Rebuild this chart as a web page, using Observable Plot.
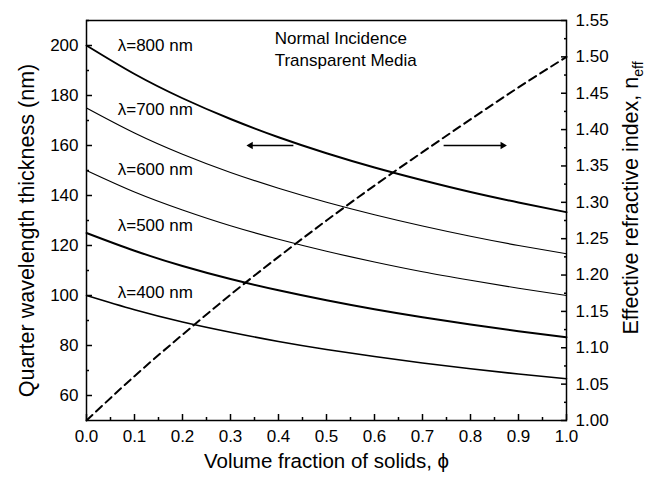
<!DOCTYPE html>
<html><head><meta charset="utf-8">
<script src="https://cdn.jsdelivr.net/npm/d3@7"></script>
<script src="https://cdn.jsdelivr.net/npm/@observablehq/plot@0.6"></script>
<style>
body{margin:0;background:#fff}
#chart{width:661px;height:478px}
</style>
</head><body><div id="chart"></div>
<script>
// ---- data ----
const phi = [0.0, 0.1, 0.2, 0.3, 0.4, 0.5, 0.6, 0.7, 0.8, 0.9, 1.0];
const wavelengths = [800, 700, 600, 500, 400];
const t800 = [200, 188.6, 178.9, 170.6, 163.3, 156.9, 151.2, 146.1, 141.4, 137.2, 133.3];
const t700 = [175, 165.0, 156.5, 149.2, 142.9, 137.3, 132.3, 127.8, 123.7, 120.0, 116.7];
const t600 = [150, 141.4, 134.2, 127.9, 122.5, 117.7, 113.4, 109.5, 106.1, 102.9, 100.0];
const t500 = [125, 117.9, 111.8, 106.6, 102.1, 98.1, 94.5, 91.3, 88.4, 85.7, 83.3];
const t400 = [100, 94.3, 89.4, 85.3, 81.6, 78.4, 75.6, 73.0, 70.7, 68.6, 66.7];
const nEff = [1.000, 1.061, 1.118, 1.173, 1.225, 1.275, 1.323, 1.369, 1.414, 1.458, 1.500];

const xTicks = [0.0, 0.1, 0.2, 0.3, 0.4, 0.5, 0.6, 0.7, 0.8, 0.9, 1.0];
const xMinor = [0.05, 0.15, 0.25, 0.35, 0.45, 0.55, 0.65, 0.75, 0.85, 0.95];
const leftTicks = [60, 80, 100, 120, 140, 160, 180, 200];
const leftMinor = [70, 90, 110, 130, 150, 170, 190, 210];
const rightTicks = [1.00, 1.05, 1.10, 1.15, 1.20, 1.25, 1.30, 1.35, 1.40, 1.45, 1.50, 1.55];
const rightMinor = [1.025, 1.075, 1.125, 1.175, 1.225, 1.275, 1.325, 1.375, 1.425, 1.475, 1.525];

const seriesLabels = ["λ=800 nm", "λ=700 nm", "λ=600 nm", "λ=500 nm", "λ=400 nm"];
const seriesLabelY = [200, 174.4, 150.3, 127.9, 101.3];
const noteLines = ["Normal Incidence", "Transparent Media"];
const noteY = [202.7, 194];
const arrowsData = [
  {x1: 0.431, x2: 0.342, y: 160, dir: -90},
  {x1: 0.744, x2: 0.867, y: 160, dir: 90}
];

// ---- scales ----
const leftDomain = [50, 210];
const rightDomain = [1.00, 1.55];
const toLeft = n => leftDomain[0] + (n - rightDomain[0]) * (leftDomain[1] - leftDomain[0]) / (rightDomain[1] - rightDomain[0]);
const fromLeft = v => rightDomain[0] + (v - leftDomain[0]) * (rightDomain[1] - rightDomain[0]) / (leftDomain[1] - leftDomain[0]);

const series = [t800, t700, t600, t500, t400];
const widths = [1.9, 1.2, 1.2, 1.9, 1.6];
const lineMarks = series.map((s, k) =>
  Plot.line(phi.map((p, i) => ({phi: p, t: s[i]})), {
    x: "phi", y: "t", stroke: "black", strokeWidth: widths[k], curve: "natural"
  })
);
const nRows = phi.map((p, i) => ({phi: p, n: nEff[i]}));

const font = "'Liberation Sans', Arial, Helvetica, sans-serif";

const plot = Plot.plot({
  width: 661,
  height: 478,
  marginLeft: 86,
  marginRight: 95,
  marginTop: 20,
  marginBottom: 58,
  style: {fontFamily: font, fontSize: "17px", color: "black", background: "white"},
  x: {domain: [0, 1]},
  y: {domain: leftDomain},
  marks: [
    ...lineMarks,
    Plot.line(nRows, {x: "phi", y: d => toLeft(d.n), stroke: "black", strokeWidth: 2, strokeDasharray: "8,5", curve: "natural"}),
    // series labels
    Plot.text(seriesLabels, {x: 0.065, y: (d, i) => seriesLabelY[i], text: d => d, textAnchor: "start", fontSize: 17, fill: "black"}),
    Plot.text(noteLines, {x: 0.392, y: (d, i) => noteY[i], text: d => d, textAnchor: "start", fontSize: 17, fill: "black"}),
    // arrows with filled heads
    Plot.link(arrowsData, {x1: "x1", x2: "x2", y1: "y", y2: "y", stroke: "black", strokeWidth: 1.3}),
    Plot.dot(arrowsData, {x: "x2", y: "y", symbol: "triangle2", rotate: "dir", r: 3.5, fill: "black", stroke: null}),
    // axes (ticks drawn inward)
    Plot.axisX({ticks: xTicks, tickFormat: d3.format(".1f"), tickSize: 6, dy: -6, tickPadding: 9, fontSize: 17, strokeWidth: 1.5, label: null}),
    Plot.axisX({ticks: xMinor, tickFormat: () => "", tickSize: 3, dy: -3, strokeWidth: 1.5, label: null}),
    Plot.axisY({anchor: "left", ticks: leftTicks, tickSize: 6, dx: 6, tickPadding: 8, fontSize: 17, strokeWidth: 1.5, label: null}),
    Plot.axisY({anchor: "left", ticks: leftMinor, tickFormat: () => "", tickSize: 3, dx: 3, strokeWidth: 1.5, label: null}),
    Plot.axisY({anchor: "right", ticks: rightTicks.map(toLeft), tickFormat: d => fromLeft(d).toFixed(2), tickSize: 6, dx: -6, tickPadding: 9, fontSize: 17, strokeWidth: 1.5, label: null}),
    Plot.axisY({anchor: "right", ticks: rightMinor.map(toLeft), tickFormat: () => "", tickSize: 3, dx: -3, strokeWidth: 1.5, label: null}),
    Plot.frame({stroke: "black", strokeWidth: 1.5}),
    // axis titles
    Plot.text(["Volume fraction of solids, ϕ"], {frameAnchor: "bottom", textAnchor: "middle", dy: 47, text: d => d, fontSize: 20.5, fill: "black"}),
    Plot.text(["Quarter wavelength thickness (nm)"], {frameAnchor: "left", textAnchor: "middle", dx: -59, dy: 10, rotate: -90, text: d => d, fontSize: 21.5, fill: "black"})
  ]
});

document.getElementById("chart").appendChild(plot);

// right axis title with subscript
const svg = d3.select(plot);
const rt = svg.append("text")
  .attr("transform", "translate(638,198) rotate(-90)")
  .attr("text-anchor", "middle")
  .attr("font-family", font)
  .attr("font-size", 21.5)
  .attr("fill", "black");
rt.append("tspan").text("Effective refractive index, n");
rt.append("tspan").attr("font-size", 14).attr("dy", "0.35em").text("eff");
</script>
</body></html>
